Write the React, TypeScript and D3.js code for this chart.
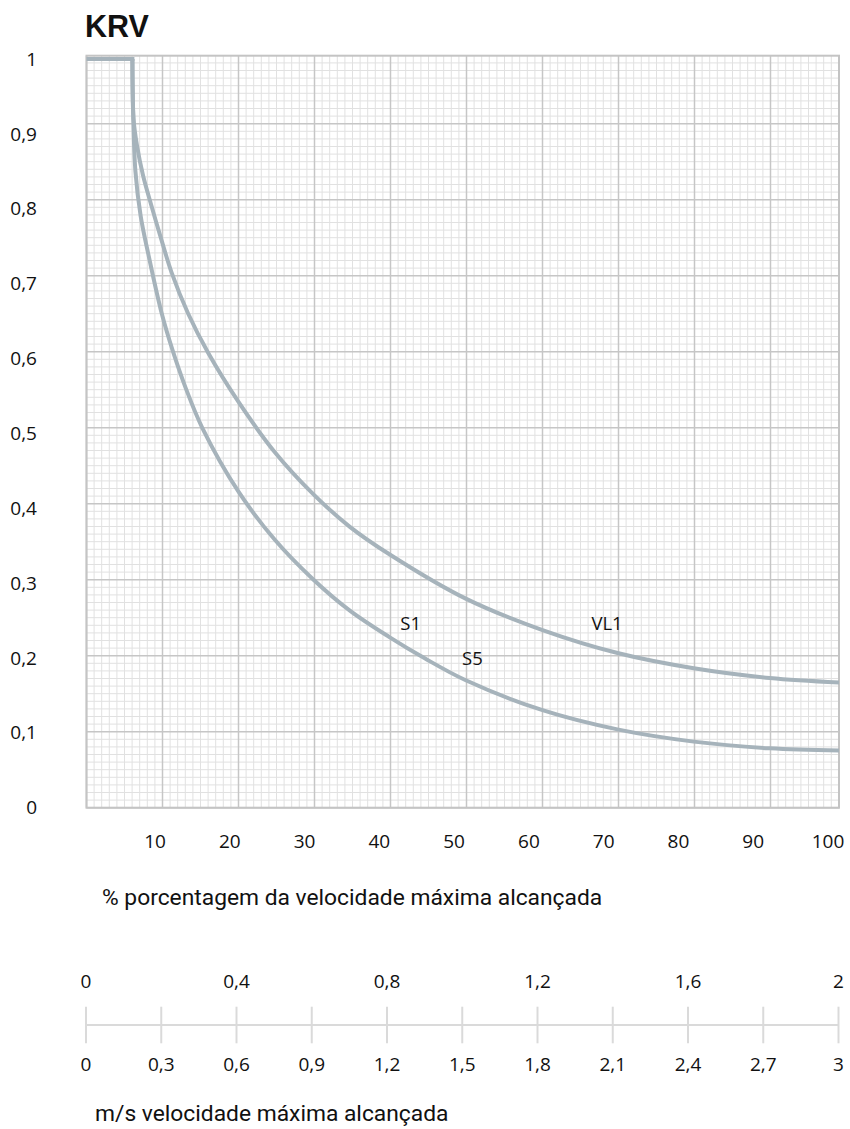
import React from 'react';
import * as d3 from 'd3';

// KRV curves (% of max speed -> KRV)
const flatPct = [0, 6.1];
const flatKrv = [1, 1];

const s1Pct = [6.1, 6.2, 6.5, 7.2, 8.2, 10, 11.5, 13.2, 15.4, 20.2, 25, 30.1, 35, 40.2, 45, 50.4, 60.6, 70.7, 80.7, 90.8, 100];
const s1Krv = [1, 0.93, 0.85, 0.79, 0.74, 0.66, 0.609, 0.56, 0.507, 0.422, 0.358, 0.305, 0.263, 0.228, 0.199, 0.17, 0.13, 0.104, 0.088, 0.079, 0.076];

const vl1Pct = [6.1, 6.25, 6.7, 7.5, 8.6, 10, 11.3, 13.5, 16.2, 20.2, 25, 30.2, 35, 40.3, 50.4, 60.6, 70.7, 80.7, 90.8, 100];
const vl1Krv = [1, 0.92, 0.885, 0.845, 0.805, 0.757, 0.715, 0.66, 0.607, 0.542, 0.475, 0.418, 0.375, 0.338, 0.279, 0.237, 0.206, 0.186, 0.173, 0.167];

const curveLabels = [
  { text: 'S1', pct: 41.7, krv: 0.237 },
  { text: 'S5', pct: 49.9, krv: 0.19 },
  { text: 'VL1', pct: 67.1, krv: 0.237 },
];

const yTicks = [0, 0.1, 0.2, 0.3, 0.4, 0.5, 0.6, 0.7, 0.8, 0.9, 1];
const xTicks = [10, 20, 30, 40, 50, 60, 70, 80, 90, 100];
const msTopTicks = [0, 0.4, 0.8, 1.2, 1.6, 2];
const msBottomTicks = [0, 0.3, 0.6, 0.9, 1.2, 1.5, 1.8, 2.1, 2.4, 2.7, 3];

const W = 850;
const H = 1129;
const plot = { left: 86.5, right: 839, top: 55.7, bottom: 807.7 };

const fmt = (v: number) => String(v).replace('.', ',');
const labelFont = '"Open Sans", sans-serif';
const captionFont = 'Roboto, sans-serif';

export default function App() {
  const x = d3.scaleLinear().domain([0, 100]).range([plot.left, plot.right]);
  const y = d3.scaleLinear().domain([0, 1]).range([807.5, 59]);
  const xLab = d3.scaleLinear().domain([10, 100]).range([155, 828]);

  // millimetre paper behind the plot
  const gx = d3.scaleLinear().domain([0, 100]).range([plot.left, plot.left + 760]);
  const gy = d3.scaleLinear().domain([0, 100]).range([plot.bottom, plot.bottom - 760]);
  const vLines = d3.range(0, 101).filter((i) => gx(i) <= plot.right);
  const hLines = d3.range(0, 101).filter((i) => gy(i) >= plot.top);

  const flatLine = d3
    .line<[number, number]>()
    .x((d) => x(d[0]))
    .y((d) => y(d[1]));

  const curve = d3
    .line<[number, number]>()
    .x((d) => x(d[0]))
    .y((d) => y(d[1]))
    .curve(d3.curveCatmullRom.alpha(0.5));

  const zip = (a: number[], b: number[]) => a.map((p, i) => [p, b[i]] as [number, number]);
  const series = [zip(s1Pct, s1Krv), zip(vl1Pct, vl1Krv)];

  const ms = d3.scaleLinear().domain([0, 3]).range([86, 838.5]);
  const msTop = d3.scaleLinear().domain([0, 2]).range([86, 838.5]);

  return (
    <svg width={W} height={H} style={{ position: 'absolute', left: 0, top: 0, background: '#fff' }}>
      <text x={85} y={36.5} fontFamily='"Liberation Sans", Arial, sans-serif' fontWeight="bold" fontSize={30.5} fill="#111">
        KRV
      </text>

      <defs>
        <clipPath id="plotClip">
          <rect x={plot.left} y={plot.top} width={plot.right - plot.left} height={plot.bottom - plot.top} />
        </clipPath>
      </defs>

      <g>
        {vLines.filter((i) => i % 10 !== 0).map((i) => (
          <line key={'vm' + i} x1={gx(i)} x2={gx(i)} y1={plot.top} y2={plot.bottom} stroke="#e1e1e1" strokeWidth={1} />
        ))}
        {hLines.filter((i) => i % 10 !== 0).map((i) => (
          <line key={'hm' + i} x1={plot.left} x2={plot.right} y1={gy(i)} y2={gy(i)} stroke="#e1e1e1" strokeWidth={1} />
        ))}
        {vLines.filter((i) => i % 10 === 0).map((i) => (
          <line key={'vM' + i} x1={gx(i)} x2={gx(i)} y1={plot.top} y2={plot.bottom} stroke="#c6c6c6" strokeWidth={1.5} />
        ))}
        {hLines.filter((i) => i % 10 === 0).map((i) => (
          <line key={'hM' + i} x1={plot.left} x2={plot.right} y1={gy(i)} y2={gy(i)} stroke="#c6c6c6" strokeWidth={1.5} />
        ))}
        <rect
          x={plot.left}
          y={plot.top}
          width={plot.right - plot.left}
          height={plot.bottom - plot.top}
          fill="none"
          stroke="#c4c4c4"
          strokeWidth={2}
        />
      </g>

      <g clipPath="url(#plotClip)" fill="none" stroke="#a6b3bb" strokeWidth={4}>
        <path d={flatLine(zip(flatPct, flatKrv)) || ''} strokeLinecap="square" />
        {series.map((s, i) => (
          <path key={i} d={curve(s) || ''} />
        ))}
      </g>

      {curveLabels.map((l) => (
        <text key={l.text} x={x(l.pct)} y={y(l.krv)} fontFamily={labelFont} fontSize={18.5} fill="#111">
          {l.text}
        </text>
      ))}

      {yTicks.map((v) => (
        <text key={v} x={37} y={y(v) + 6.7} textAnchor="end" fontFamily={labelFont} fontSize={19} fill="#111">
          {fmt(v)}
        </text>
      ))}

      {xTicks.map((v) => (
        <text key={v} x={xLab(v)} y={848} textAnchor="middle" fontFamily={labelFont} fontSize={19} fill="#111">
          {fmt(v)}
        </text>
      ))}

      <text x={102} y={905} fontFamily={captionFont} fontSize={22.8} fill="#111">
        % porcentagem da velocidade máxima alcançada
      </text>

      {/* m/s scale */}
      <line x1={ms(0)} x2={ms(3)} y1={1025} y2={1025} stroke="#dadada" strokeWidth={2} />
      {msBottomTicks.map((v) => (
        <line key={'t' + v} x1={ms(v)} x2={ms(v)} y1={1006.7} y2={1043.3} stroke="#dadada" strokeWidth={2} />
      ))}
      {msTopTicks.map((v) => (
        <text key={'a' + v} x={msTop(v)} y={988} textAnchor="middle" fontFamily={labelFont} fontSize={19} fill="#111">
          {fmt(v)}
        </text>
      ))}
      {msBottomTicks.map((v) => (
        <text key={'b' + v} x={ms(v)} y={1071} textAnchor="middle" fontFamily={labelFont} fontSize={19} fill="#111">
          {fmt(v)}
        </text>
      ))}

      <text x={95} y={1121} fontFamily={captionFont} fontSize={22.8} fill="#111">
        m/s velocidade máxima alcançada
      </text>
    </svg>
  );
}
